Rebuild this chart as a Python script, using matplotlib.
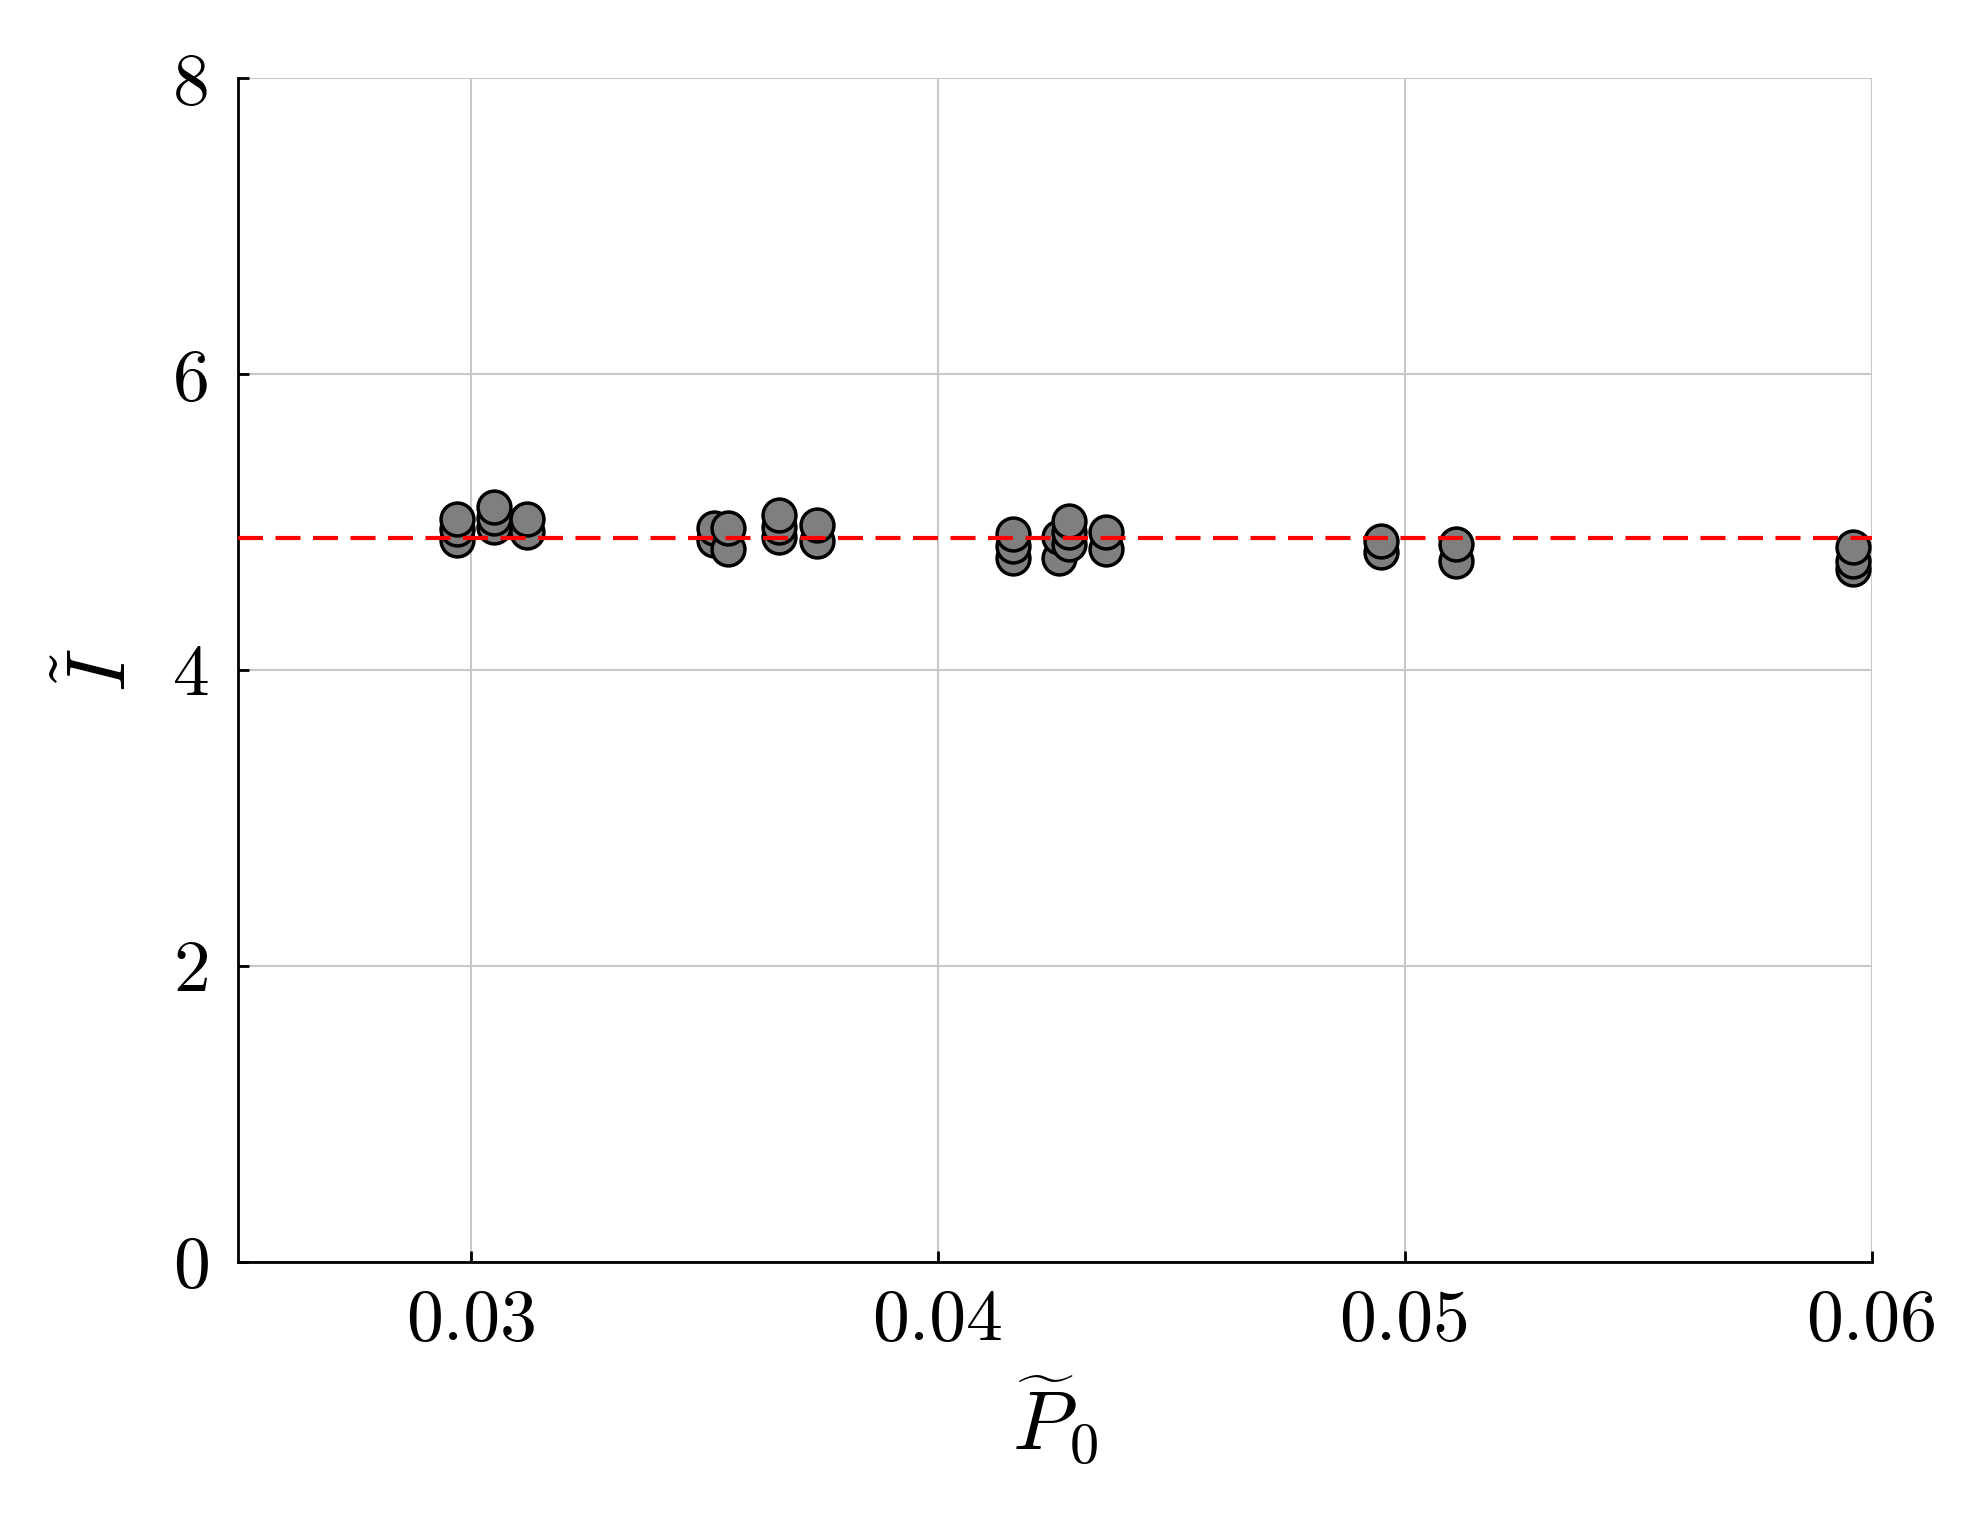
import matplotlib
matplotlib.use("Agg")
import matplotlib.pyplot as plt

p0 = [0.0297, 0.0297, 0.0297, 0.0305, 0.0305, 0.0305, 0.0312, 0.0312,
      0.0352, 0.0352, 0.0355, 0.0355, 0.0366, 0.0366, 0.0366, 0.0374, 0.0374,
      0.0416, 0.0416, 0.0416, 0.0426, 0.0426, 0.0428, 0.0428, 0.0428, 0.0436, 0.0436,
      0.0495, 0.0495, 0.0511, 0.0511, 0.0596, 0.0596, 0.0596]
I = [4.88, 4.95, 5.02, 4.97, 5.03, 5.10, 4.93, 5.02,
     4.88, 4.96, 4.82, 4.96, 4.90, 4.97, 5.05, 4.87, 4.98,
     4.76, 4.84, 4.92, 4.76, 4.90, 4.85, 4.93, 5.01, 4.82, 4.93,
     4.80, 4.87, 4.74, 4.85, 4.68, 4.74, 4.83]
mean_I = 4.89

plt.rcParams['font.family'] = 'serif'
plt.rcParams['font.serif'] = ['cmr10', 'DejaVu Serif']
plt.rcParams['mathtext.fontset'] = 'cm'
plt.rcParams['axes.formatter.use_mathtext'] = True

fig = plt.figure(figsize=(19.64, 15.35), dpi=100)
ax = fig.add_axes([0.121, 0.178, 0.832, 0.771])
ax.scatter(p0, I, s=560, facecolor='#7f7f7f', edgecolor='black', linewidth=2.5, zorder=3)
ax.axhline(mean_I, color='red', linestyle=(0, (6, 3)), linewidth=3, zorder=4)
ax.set_xlim(0.025, 0.06)
ax.set_ylim(0, 8)
ax.set_xticks([0.03, 0.04, 0.05, 0.06])
ax.set_xticklabels(['0.03', '0.04', '0.05', '0.06'])
ax.set_yticks([0, 2, 4, 6, 8])
ax.set_yticklabels(['0', '2', '4', '6', '8'])
ax.grid(True, color='#c8c8c8', linewidth=1.5)
ax.set_axisbelow(True)
for s in ['top', 'right']:
    ax.spines[s].set_visible(False)
for s in ['left', 'bottom']:
    ax.spines[s].set_linewidth(2)
ax.tick_params(labelsize=53, width=2, length=8, direction='in', pad=20)
ax.set_xlabel(r'$\widetilde{P}_0$', fontsize=60, labelpad=14)
ax.set_ylabel(r'$\tilde{I}$', fontsize=60, labelpad=22)
fig.savefig('out.png', dpi=100)
